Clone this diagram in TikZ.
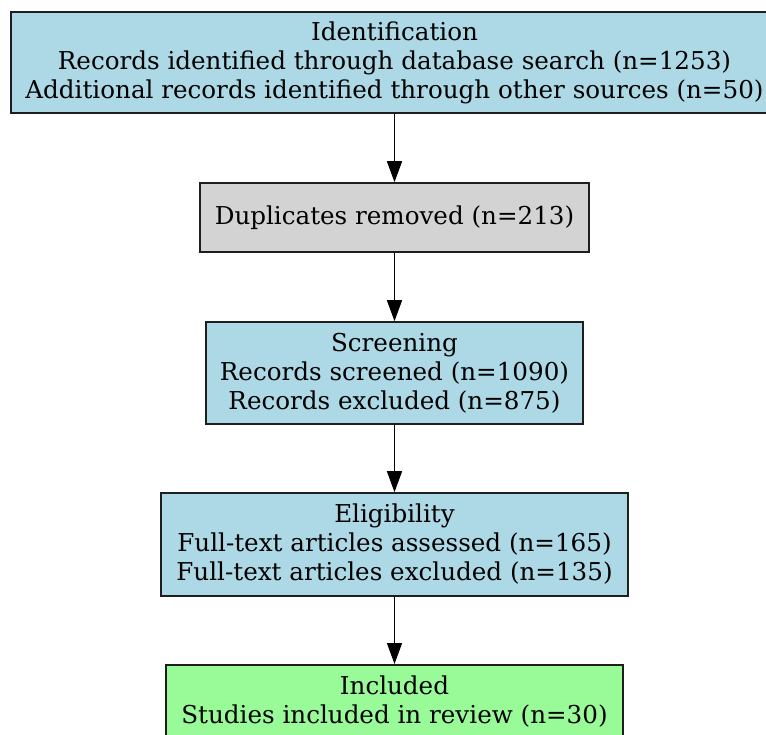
\documentclass[tikz,border=0pt]{standalone}
\usepackage{fontspec}
\setmainfont{DejaVu Serif}
\usetikzlibrary{arrows.meta}
\definecolor{lightblue}{RGB}{173,216,230}
\definecolor{lightgrey}{RGB}{211,211,211}
\definecolor{palegreen}{RGB}{152,251,152}
\definecolor{edge}{RGB}{30,30,30}
\tikzset{
  box/.style={draw=edge, line width=1.6pt, rectangle, align=center,
    inner sep=0pt, font=\fontsize{24.6}{29}\selectfont},
  flow/.style={draw=black, line width=1.4pt,
    -{Triangle[length=21pt,width=15pt]}}
}
\begin{document}
\begin{tikzpicture}[x=1pt,y=-1pt]
  \useasboundingbox (0,0) rectangle (766,734);
  \clip (0,0) rectangle (766,734);
  \node[box, fill=lightblue, minimum width=767pt, minimum height=101pt]
    (ident) at (394.5,62.5)
    {Identification\\Records identified through database search (n=1253)\\Additional records identified through other sources (n=50)};
  \node[box, fill=lightgrey, minimum width=389pt, minimum height=69pt]
    (dup) at (394.5,217.5) {Duplicates removed (n=213)};
  \node[box, fill=lightblue, minimum width=377pt, minimum height=102pt]
    (screen) at (394.5,373)
    {Screening\\Records screened (n=1090)\\Records excluded (n=875)};
  \node[box, fill=lightblue, minimum width=467pt, minimum height=103pt]
    (elig) at (394.5,544.5)
    {Eligibility\\Full-text articles assessed (n=165)\\Full-text articles excluded (n=135)};
  \node[box, fill=palegreen, minimum width=457pt, minimum height=74pt, anchor=north]
    (incl) at (394.5,664)
    {Included\\Studies included in review (n=30)};
  \draw[flow] (ident) -- (dup);
  \draw[flow] (dup) -- (screen);
  \draw[flow] (screen) -- (elig);
  \draw[flow] (elig) -- (incl);
\end{tikzpicture}
\end{document}
